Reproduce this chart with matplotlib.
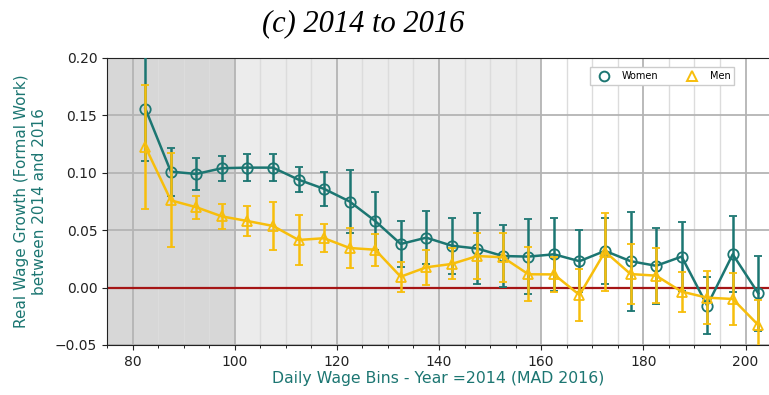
import matplotlib
matplotlib.use("Agg")
import matplotlib.pyplot as plt
from matplotlib.ticker import MultipleLocator
import numpy as np

bins = [82.5, 87.5, 92.5, 97.5, 102.5, 107.5, 112.5, 117.5, 122.5, 127.5,
        132.5, 137.5, 142.5, 147.5, 152.5, 157.5, 162.5, 167.5, 172.5, 177.5,
        182.5, 187.5, 192.5, 197.5, 202.5]

women = [0.156, 0.101, 0.099, 0.104, 0.1045, 0.1045, 0.094, 0.086, 0.075, 0.058,
         0.038, 0.0435, 0.0365, 0.034, 0.0275, 0.027, 0.029, 0.023, 0.032, 0.023,
         0.019, 0.027, -0.0157, 0.029, -0.005]
women_err = [0.046, 0.021, 0.014, 0.011, 0.012, 0.012, 0.011, 0.0145, 0.0275, 0.025,
             0.020, 0.023, 0.0245, 0.031, 0.027, 0.033, 0.032, 0.027, 0.029, 0.043,
             0.033, 0.030, 0.025, 0.033, 0.0325]

men = [0.1227, 0.076, 0.070, 0.062, 0.058, 0.0537, 0.0415, 0.043, 0.0345, 0.033,
       0.0095, 0.0177, 0.0206, 0.0275, 0.0264, 0.0116, 0.0115, -0.0064, 0.0313, 0.0118,
       0.0104, -0.0035, -0.0088, -0.0099, -0.0326]
men_err = [0.054, 0.041, 0.010, 0.011, 0.013, 0.021, 0.022, 0.012, 0.017, 0.014,
           0.013, 0.015, 0.0135, 0.020, 0.0215, 0.0235, 0.015, 0.023, 0.034, 0.026,
           0.024, 0.0175, 0.023, 0.0225, 0.022]

teal = "#1c7672"
gold = "#f7be0c"

fig = plt.figure(figsize=(7.69, 3.95), dpi=100)
ax = fig.add_axes([107/769, 1-345/395, 1-107/769, (345-58)/395])

ax.set_xlim(75, 204.6)
ax.set_ylim(-0.05, 0.20)

ax.axvspan(75, 100, color="#d7d7d7", zorder=0, lw=0)
ax.axvspan(100, 160, color="#ececec", zorder=0, lw=0)

ax.xaxis.set_major_locator(MultipleLocator(20))
ax.xaxis.set_minor_locator(MultipleLocator(5))
ax.yaxis.set_major_locator(MultipleLocator(0.05))
ax.grid(True, which="major", color="#b4b4b4", lw=1.3, zorder=1)
ax.grid(True, which="minor", axis="x", color="#dcdcdc", lw=1.0, zorder=1)
ax.set_axisbelow(True)

ax.axhline(0, color="#a51515", lw=1.6, zorder=2)

ax.errorbar(bins, women, yerr=women_err, color=teal, lw=1.8, elinewidth=1.8,
            capsize=3, capthick=1.4, marker="o", markersize=7.5, mfc="none",
            mec=teal, mew=1.3, label="Women", zorder=3)
ax.errorbar(bins, men, yerr=men_err, color=gold, lw=1.8, elinewidth=1.8,
            capsize=3, capthick=1.4, marker="^", markersize=7.5, mfc="none",
            mec=gold, mew=1.3, label="Men", zorder=4)

handles = [plt.Line2D([], [], ls="none", marker="o", mfc="none", mec=teal, mew=1.4, markersize=7),
           plt.Line2D([], [], ls="none", marker="^", mfc="none", mec=gold, mew=1.4, markersize=7)]
leg = ax.legend(handles, ["Women", "Men"], loc="upper right", ncol=2, fontsize=7,
                bbox_to_anchor=(0.955, 0.985), framealpha=1, edgecolor="#cccccc",
                fancybox=False, columnspacing=2.5, handletextpad=0.8, borderpad=0.4)

ax.spines["right"].set_visible(False)
for s in ["left", "bottom", "top"]:
    ax.spines[s].set_color("#222222")
ax.tick_params(axis="both", labelsize=10, colors="#222222")
ax.tick_params(axis="x", which="minor", length=2.5)

ax.set_xlabel("Daily Wage Bins - Year =2014 (MAD 2016)", color=teal, fontsize=11.3, labelpad=2)
ax.set_ylabel("Real Wage Growth (Formal Work)\nbetween 2014 and 2016", color=teal,
              fontsize=11, labelpad=6)

fig.text(363/769, 1-24/395, "(c) 2014 to 2016", ha="center", va="center",
         fontsize=22, style="italic", family="Liberation Serif")

fig.savefig("out.png", dpi=100)
